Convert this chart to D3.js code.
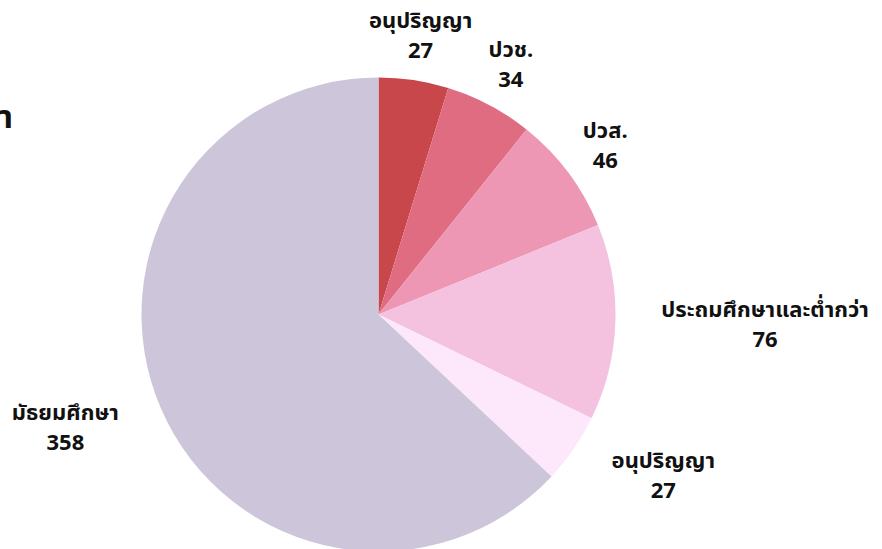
<!DOCTYPE html>
<html>
<head>
<meta charset="utf-8">
<script src="https://cdn.jsdelivr.net/npm/d3@7"></script>
<style>
  body { margin: 0; background: #fff; }
  svg { display: block; font-family: "Noto Sans", "Noto Sans Thai", sans-serif; }
</style>
</head>
<body>
<div id="chart"></div>
<script>
const categories = ["อนุปริญญา", "ปวช.", "ปวส.", "ประถมศึกษาและต่ำกว่า", "อนุปริญญา", "มัธยมศึกษา"];
const values = [27, 34, 46, 76, 27, 358];
const colors = ["#c8474a", "#e06c82", "#ee97b5", "#f4c1df", "#fde8fb", "#cdc5d9"];
const title = "ระดับการศึกษา";

const W = 882, H = 549;
const cx = 378.5, cy = 314.5, R = 237;
const labelR = 283;

const svg = d3.select("#chart").append("svg")
    .attr("width", W)
    .attr("height", H);

// title sits mostly off the left edge, only its last glyph shows
svg.append("text")
    .attr("x", 13)
    .attr("y", 128)
    .attr("text-anchor", "end")
    .style("font-size", "32px")
    .style("font-weight", "bold")
    .attr("fill", "#111")
    .text(title);

const data = categories.map((c, i) => ({ name: c, value: values[i], color: colors[i] }));

const pie = d3.pie()
    .value(d => d.value)
    .sort(null);

const arc = d3.arc()
    .innerRadius(0)
    .outerRadius(R);

const arcs = pie(data);

const g = svg.append("g")
    .attr("transform", `translate(${cx},${cy})`);

g.selectAll("path")
    .data(arcs)
    .join("path")
    .attr("d", arc)
    .attr("fill", d => d.data.color);

// labels: centred above, start/end anchored on the sides below horizontal
const labels = g.selectAll("text.lbl")
    .data(arcs)
    .join("text")
    .attr("class", "lbl")
    .style("font-size", "22px")
    .style("font-weight", "bold")
    .attr("fill", "#111")
    .each(function(d) {
        let a = (d.startAngle + d.endAngle) / 2;
        let x = labelR * Math.sin(a);
        let y = -labelR * Math.cos(a);
        let anchor = "middle";
        if (Math.cos(a) < 0) anchor = Math.sin(a) > 0 ? "start" : "end";
        let t = d3.select(this).attr("text-anchor", anchor);
        let lines = [d.data.name, d.data.value];
        // 30px line spacing, block centred on the point
        t.attr("transform", `translate(${x},${y})`);
        t.selectAll("tspan")
            .data(lines)
            .join("tspan")
            .attr("x", 0)
            .attr("y", (l, i) => -15 + i * 30 + 8)
            .text(l => l);
    });

// second line centred under the first
labels.each(function() {
    let t = d3.select(this);
    let spans = t.selectAll("tspan").nodes();
    if (t.attr("text-anchor") === "middle") return;
    let w0 = spans[0].getComputedTextLength();
    let anchor = t.attr("text-anchor");
    d3.select(spans[1])
        .attr("text-anchor", "middle")
        .attr("x", anchor === "start" ? w0 / 2 : -w0 / 2);
});
</script>
</body>
</html>
